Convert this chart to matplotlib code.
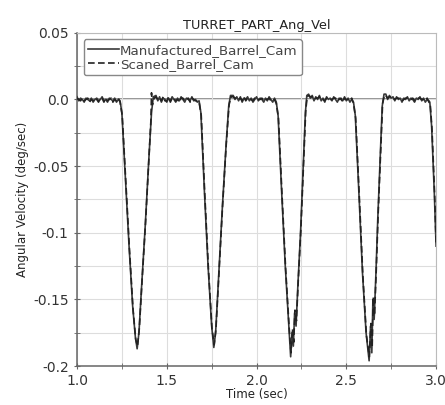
import matplotlib
matplotlib.use("Agg")
import matplotlib.pyplot as plt
from matplotlib.ticker import MultipleLocator

# Manufactured_Barrel_Cam (time, angular velocity)
t_man = [1.00, 1.01, 1.02, 1.03, 1.04, 1.05, 1.06, 1.07, 1.08, 1.09, 1.10, 1.11, 1.12,
         1.13, 1.14, 1.15, 1.16, 1.17, 1.18, 1.19, 1.20, 1.21, 1.22, 1.23, 1.24,
         1.25, 1.27, 1.29, 1.31, 1.325, 1.335, 1.345, 1.36, 1.38, 1.40, 1.415, 1.425,
         1.44, 1.45, 1.46, 1.47, 1.48, 1.49, 1.50, 1.51, 1.52, 1.53, 1.54, 1.55, 1.56,
         1.57, 1.58, 1.59, 1.60, 1.61, 1.62, 1.63, 1.64, 1.65, 1.66, 1.67, 1.68,
         1.69, 1.71, 1.73, 1.75, 1.762, 1.772, 1.79, 1.81, 1.83, 1.845, 1.855,
         1.87, 1.88, 1.89, 1.90, 1.91, 1.92, 1.93, 1.94, 1.95, 1.96, 1.97, 1.98, 1.99,
         2.00, 2.01, 2.02, 2.03, 2.04, 2.05, 2.06, 2.07, 2.08, 2.09, 2.10, 2.11,
         2.12, 2.14, 2.16, 2.18, 2.19, 2.198, 2.205, 2.212, 2.22, 2.23, 2.245, 2.26, 2.272, 2.28,
         2.29, 2.30, 2.31, 2.32, 2.33, 2.34, 2.35, 2.36, 2.37, 2.38, 2.39, 2.40, 2.41,
         2.42, 2.43, 2.44, 2.45, 2.46, 2.47, 2.48, 2.49, 2.50, 2.51, 2.52, 2.53, 2.54,
         2.55, 2.57, 2.59, 2.61, 2.627, 2.635, 2.642, 2.648, 2.655, 2.665, 2.675, 2.69, 2.70, 2.71,
         2.72, 2.73, 2.74, 2.75, 2.76, 2.77, 2.78, 2.79, 2.80, 2.81, 2.82, 2.83, 2.84,
         2.85, 2.86, 2.87, 2.88, 2.89, 2.90, 2.91, 2.92, 2.93, 2.94, 2.95, 2.96, 2.965,
         2.975, 2.99, 3.00]
v_man = [0.002, -0.001, 0.001, 0.000, -0.002, 0.001, 0.000, -0.001, 0.001, -0.002, 0.000, 0.001, -0.001,
         0.000, 0.002, -0.001, 0.000, -0.002, 0.001, 0.000, -0.001, 0.001, -0.002, 0.000, -0.001,
         -0.010, -0.060, -0.110, -0.155, -0.178, -0.187, -0.175, -0.140, -0.095, -0.045, -0.010, 0.002,
         0.003, -0.001, 0.002, -0.002, 0.001, 0.000, -0.002, 0.001, -0.001, 0.002, 0.000, -0.002, 0.001,
         -0.001, 0.002, 0.000, -0.002, 0.001, 0.000, -0.001, 0.002, -0.001, 0.000, -0.002, -0.001,
         -0.010, -0.070, -0.125, -0.170, -0.186, -0.175, -0.130, -0.080, -0.035, -0.005, 0.003,
         0.003, 0.000, 0.002, -0.001, 0.002, -0.002, 0.001, 0.000, 0.002, -0.001, 0.001, -0.002, 0.000,
         0.002, -0.001, 0.001, 0.000, -0.002, 0.001, -0.001, 0.002, 0.000, -0.002, 0.001, -0.002,
         -0.012, -0.070, -0.125, -0.170, -0.193, -0.175, -0.185, -0.160, -0.170, -0.140, -0.100, -0.050, -0.010, 0.003,
         0.004, 0.001, 0.003, -0.001, 0.002, 0.000, 0.003, -0.001, 0.001, -0.002, 0.002, 0.000, 0.001,
         -0.001, 0.002, 0.000, -0.002, 0.001, 0.000, -0.001, 0.002, -0.001, 0.001, -0.002, 0.000, -0.002,
         -0.012, -0.070, -0.130, -0.175, -0.196, -0.170, -0.190, -0.150, -0.165, -0.130, -0.090, -0.040, -0.005, 0.004,
         0.004, 0.000, 0.003, 0.001, 0.002, -0.001, 0.002, 0.000, 0.001, -0.002, 0.001, 0.000, 0.002,
         -0.001, 0.001, 0.000, -0.002, 0.001, 0.000, 0.002, -0.001, 0.001, -0.002, 0.000, -0.001, -0.002,
         -0.020, -0.070, -0.110]

# Scaned_Barrel_Cam (time, angular velocity)
t_scan = [1.00, 1.01, 1.02, 1.03, 1.04, 1.05, 1.06, 1.07, 1.08, 1.09, 1.10, 1.11, 1.12,
          1.13, 1.14, 1.15, 1.16, 1.17, 1.18, 1.19, 1.20, 1.21, 1.22, 1.23, 1.24,
          1.252, 1.272, 1.292, 1.312, 1.327, 1.337, 1.347, 1.362, 1.382, 1.402, 1.412, 1.415, 1.42, 1.43,
          1.44, 1.45, 1.46, 1.47, 1.48, 1.49, 1.50, 1.51, 1.52, 1.53, 1.54, 1.55, 1.56,
          1.57, 1.58, 1.59, 1.60, 1.61, 1.62, 1.63, 1.64, 1.65, 1.66, 1.67, 1.68,
          1.692, 1.712, 1.732, 1.752, 1.764, 1.774, 1.792, 1.812, 1.832, 1.847, 1.857,
          1.87, 1.88, 1.89, 1.90, 1.91, 1.92, 1.93, 1.94, 1.95, 1.96, 1.97, 1.98, 1.99,
          2.00, 2.01, 2.02, 2.03, 2.04, 2.05, 2.06, 2.07, 2.08, 2.09, 2.10, 2.11,
          2.122, 2.142, 2.162, 2.182, 2.192, 2.2, 2.207, 2.214, 2.222, 2.232, 2.247, 2.262, 2.274, 2.282,
          2.29, 2.30, 2.31, 2.32, 2.33, 2.34, 2.35, 2.36, 2.37, 2.38, 2.39, 2.40, 2.41,
          2.42, 2.43, 2.44, 2.45, 2.46, 2.47, 2.48, 2.49, 2.50, 2.51, 2.52, 2.53, 2.54,
          2.552, 2.572, 2.592, 2.612, 2.628, 2.637, 2.644, 2.65, 2.657, 2.667, 2.677, 2.692, 2.702, 2.712,
          2.72, 2.73, 2.74, 2.75, 2.76, 2.77, 2.78, 2.79, 2.80, 2.81, 2.82, 2.83, 2.84,
          2.85, 2.86, 2.87, 2.88, 2.89, 2.90, 2.91, 2.92, 2.93, 2.94, 2.95, 2.96, 2.967,
          2.977, 2.992, 3.00]
v_scan = [0.001, 0.000, -0.001, 0.001, -0.001, 0.000, 0.001, -0.002, 0.000, -0.001, 0.001, 0.000, -0.002,
          0.001, 0.001, -0.002, 0.001, -0.001, 0.000, 0.001, -0.002, 0.000, -0.001, 0.001, -0.002,
          -0.012, -0.062, -0.112, -0.157, -0.180, -0.185, -0.172, -0.137, -0.092, -0.040, -0.015, 0.005, -0.004, 0.001,
          0.002, 0.000, 0.001, -0.001, 0.002, -0.001, -0.001, 0.002, -0.002, 0.001, 0.001, -0.001, 0.000,
          -0.002, 0.001, 0.001, -0.001, 0.000, 0.001, -0.002, 0.001, 0.000, -0.001, -0.001, -0.002,
          -0.012, -0.072, -0.127, -0.172, -0.184, -0.172, -0.127, -0.077, -0.032, -0.004, 0.002,
          0.002, 0.001, 0.001, 0.000, 0.001, -0.001, 0.002, -0.001, 0.001, 0.000, 0.000, -0.001, 0.001,
          0.001, 0.000, 0.000, 0.001, -0.001, 0.000, 0.000, 0.001, -0.001, -0.001, 0.000, -0.003,
          -0.014, -0.072, -0.127, -0.172, -0.190, -0.172, -0.182, -0.158, -0.166, -0.137, -0.097, -0.047, -0.008, 0.002,
          0.003, 0.002, 0.002, 0.000, 0.001, 0.001, 0.002, 0.000, 0.000, -0.001, 0.001, 0.001, 0.000,
          0.000, 0.001, 0.001, -0.001, 0.000, 0.001, -0.002, 0.001, 0.000, 0.000, -0.001, 0.001, -0.003,
          -0.014, -0.072, -0.132, -0.177, -0.193, -0.168, -0.186, -0.148, -0.162, -0.127, -0.087, -0.037, -0.003, 0.003,
          0.003, 0.001, 0.002, 0.002, 0.001, 0.000, 0.001, 0.001, 0.000, -0.001, 0.000, 0.001, 0.001,
          0.000, 0.000, 0.001, -0.001, 0.000, 0.001, 0.001, 0.000, 0.000, -0.001, 0.001, -0.002, -0.003,
          -0.022, -0.072, -0.108]

x_ticks = [1.0, 1.5, 2.0, 2.5, 3.0]
x_tick_labels = ["1.0", "1.5", "2.0", "2.5", "3.0"]
y_ticks = [0.05, 0.0, -0.05, -0.1, -0.15, -0.2]
y_tick_labels = ["0.05", "0.0", "-0.05", "-0.1", "-0.15", "-0.2"]

fig = plt.figure(figsize=(4.45, 4.05), dpi=100)
ax = fig.add_axes([0.173, 0.096, 0.807, 0.823])

ax.axhline(0, color="#777777", lw=1.1, zorder=1)
ax.plot(t_man, v_man, color="#3a3a3a", lw=1.2, label="Manufactured_Barrel_Cam", zorder=3)
ax.plot(t_scan, v_scan, color="#222222", lw=1.2, ls=(0, (4, 2)), label="Scaned_Barrel_Cam", zorder=4)

ax.set_xlim(1.0, 3.0)
ax.set_ylim(-0.2, 0.05)
ax.set_xticks(x_ticks)
ax.set_xticklabels(x_tick_labels)
ax.set_yticks(y_ticks)
ax.set_yticklabels(y_tick_labels)
ax.xaxis.set_minor_locator(MultipleLocator(0.25))
ax.yaxis.set_minor_locator(MultipleLocator(0.025))
ax.grid(which="both", color="#dddddd", lw=0.8, zorder=0)
ax.tick_params(which="both", direction="inout", labelsize=10, length=5, color="#666666",
               labelcolor="#333333")
ax.tick_params(axis="x", which="both", pad=3)

for s in ["top", "right"]:
    ax.spines[s].set_color("#bbbbbb")
for s in ["left", "bottom"]:
    ax.spines[s].set_color("#666666")
    ax.spines[s].set_linewidth(1.1)

ax.set_title("TURRET_PART_Ang_Vel", fontsize=9.3, pad=3, color="#222222")
ax.set_xlabel("Time (sec)", fontsize=8.5, labelpad=0, color="#222222")
ax.set_ylabel("Angular Velocity (deg/sec)", fontsize=8.5, labelpad=3, color="#222222")

leg = ax.legend(loc="upper left", fontsize=9.6, handlelength=2.3, handletextpad=0.05,
                labelspacing=0.05, borderpad=0.35, borderaxespad=0.5, fancybox=True, framealpha=1)
leg.get_frame().set_edgecolor("#888888")
for txt in leg.get_texts():
    txt.set_color("#444444")

fig.savefig("out.png", dpi=100)
plt.close(fig)
